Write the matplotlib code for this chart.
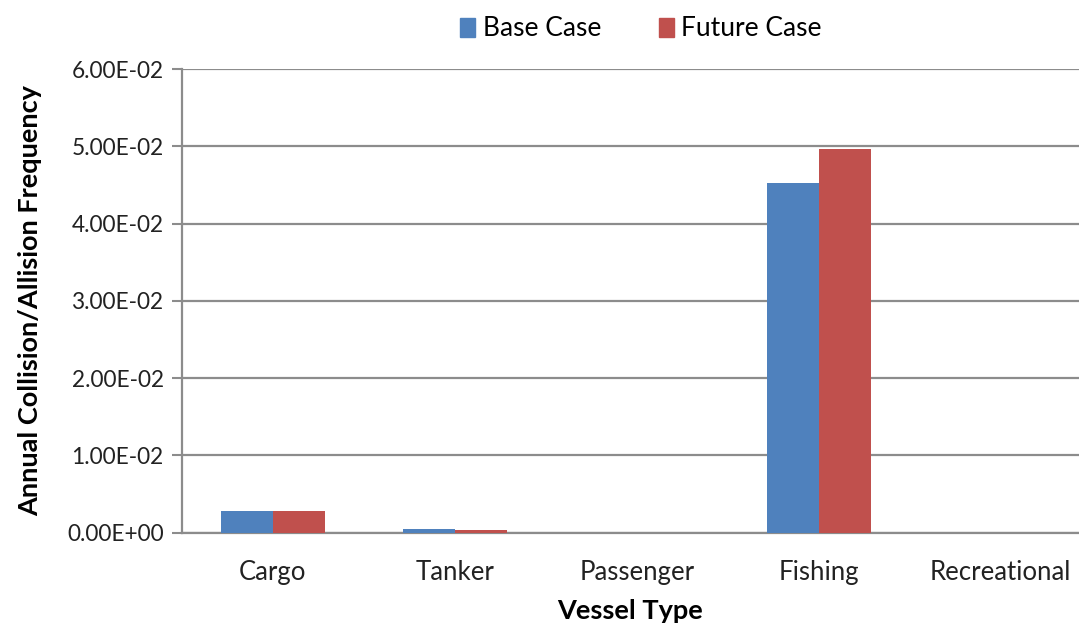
import matplotlib
matplotlib.use("Agg")
import matplotlib.pyplot as plt
import numpy as np
from matplotlib.patches import Patch

categories = ["Cargo", "Tanker", "Passenger", "Fishing", "Recreational"]
base_case = [2.75e-3, 5.0e-4, 0.0, 4.52e-2, 0.0]
future_case = [2.75e-3, 3.2e-4, 0.0, 4.97e-2, 0.0]
y_ticks = [0.0, 0.01, 0.02, 0.03, 0.04, 0.05, 0.06]
y_tick_labels = ["0.00E+00", "1.00E-02", "2.00E-02", "3.00E-02", "4.00E-02", "5.00E-02", "6.00E-02"]

blue = "#4F81BD"
red = "#C0504D"
grid_c = "#8C8C8C"
font = "Lato"

fig = plt.figure(figsize=(10.79, 6.26), dpi=100)
W, H = 1079, 626
left_px, right_px, top_px, bot_px = 181.7, 1079, 69, 532.7
ax = fig.add_axes([left_px / W, (H - bot_px) / H, (right_px - left_px) / W, (bot_px - top_px) / H])

x = np.arange(len(categories))
bw = 0.286
ax.bar(x - bw / 2, base_case, width=bw, color=blue, zorder=3)
ax.bar(x + bw / 2, future_case, width=bw, color=red, zorder=3)

ax.set_xlim(-0.5, -0.5 + (right_px - left_px) / 182.0)
ax.set_ylim(0, 0.06)
ax.set_yticks(y_ticks)
ax.set_yticklabels(y_tick_labels, fontsize=16.3, family=font, color="#222222")
ax.set_xticks(x)
ax.set_xticklabels(categories, fontsize=18.5, family=font, color="#222222")
ax.tick_params(axis="x", length=0, pad=20)
ax.tick_params(axis="y", length=7, width=1.5, color=grid_c, pad=6)

ax.yaxis.grid(True, color=grid_c, linewidth=1.6, zorder=0)
ax.set_axisbelow(True)
for s in ["top", "right"]:
    ax.spines[s].set_visible(False)
ax.spines["left"].set_color(grid_c)
ax.spines["left"].set_linewidth(1.6)
ax.spines["bottom"].set_color(grid_c)
ax.spines["bottom"].set_linewidth(1.6)

ax.set_ylabel("Annual Collision/Allision Frequency", fontsize=19.5, fontweight="bold", family=font, labelpad=18)
ax.set_xlabel("Vessel Type", fontsize=19.5, fontweight="bold", family=font, labelpad=10)

handles = [Patch(color=blue, label="Base Case"), Patch(color=red, label="Future Case")]
fig.legend(handles=handles, loc="center", bbox_to_anchor=(641 / W, 1 - 29 / H), ncol=2, frameon=False,
           prop={"family": font, "size": 19}, handlelength=0.57, handleheight=0.7, handletextpad=0.27,
           columnspacing=2.2)

fig.savefig("out.png", dpi=100)
